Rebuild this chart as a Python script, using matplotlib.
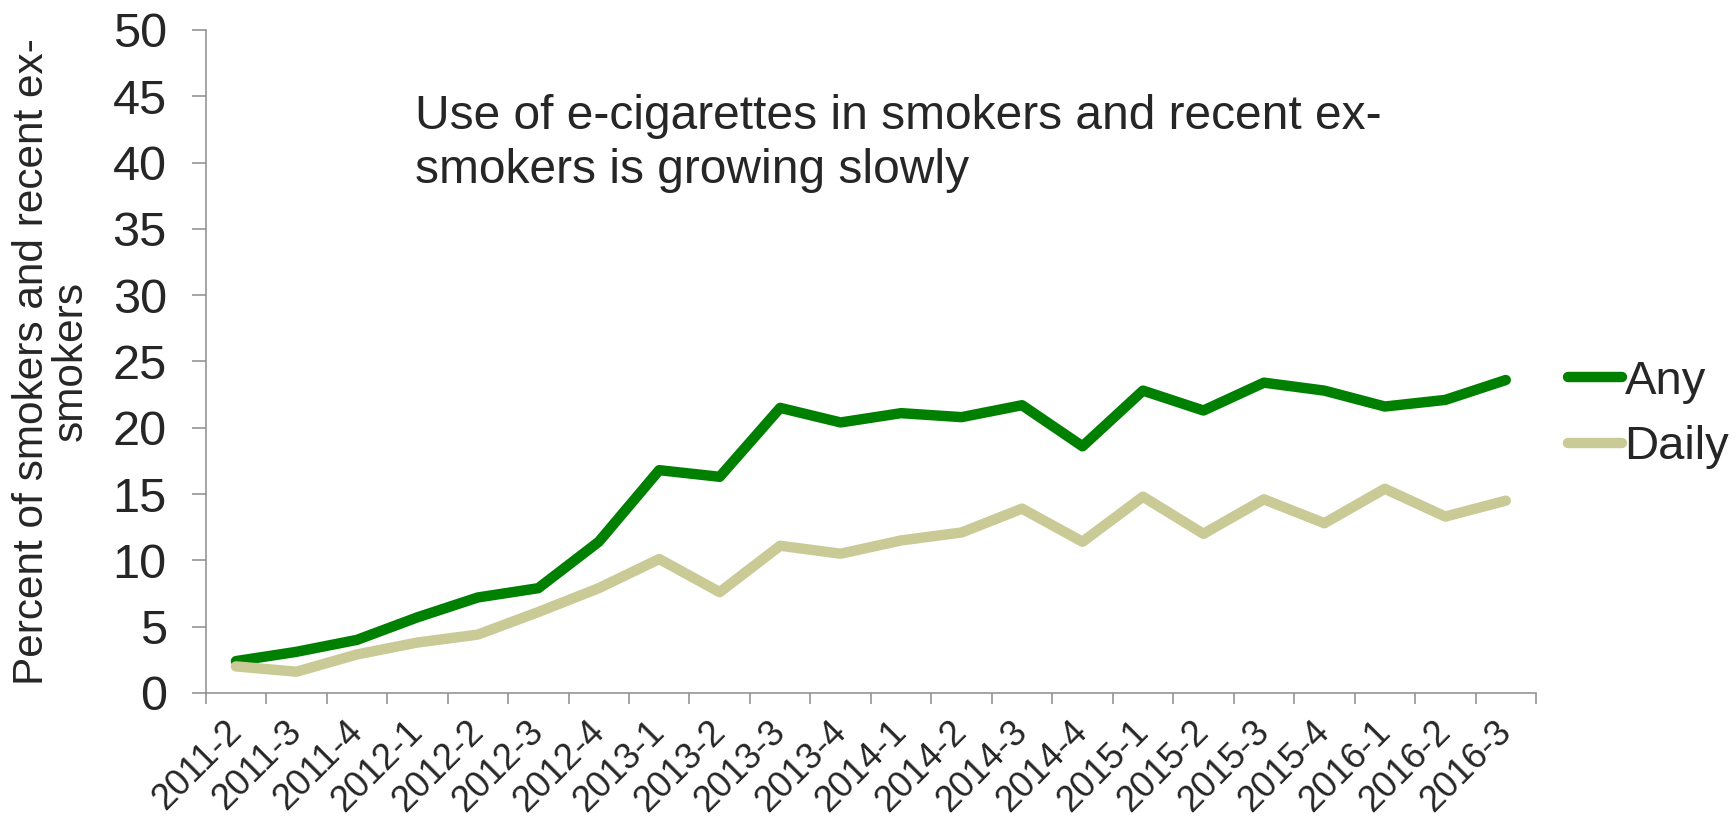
import numpy as np
import matplotlib
matplotlib.use("Agg")
import matplotlib.pyplot as plt

quarters = ["2011-2", "2011-3", "2011-4", "2012-1", "2012-2", "2012-3", "2012-4",
            "2013-1", "2013-2", "2013-3", "2013-4", "2014-1", "2014-2", "2014-3",
            "2014-4", "2015-1", "2015-2", "2015-3", "2015-4", "2016-1", "2016-2",
            "2016-3"]
any_use = [2.4, 3.1, 4.0, 5.7, 7.2, 7.9, 11.4, 16.8, 16.3, 21.5, 20.4, 21.1, 20.8,
           21.7, 18.6, 22.8, 21.3, 23.4, 22.8, 21.6, 22.1, 23.6]
daily_use = [2.0, 1.6, 2.9, 3.8, 4.4, 6.1, 7.9, 10.1, 7.6, 11.1, 10.5, 11.5, 12.1,
             13.9, 11.4, 14.8, 12.0, 14.6, 12.8, 15.4, 13.3, 14.5]

plt.rcParams['font.family'] = ['Liberation Sans', 'DejaVu Sans']
txt = '#262626'
axis_col = '#8c8c8c'

fig = plt.figure(figsize=(17.36, 8.21), dpi=100)
ax = fig.add_axes([0.1185, 0.156, 0.7663, 0.8075])

x = np.arange(len(quarters))
ax.plot(x, any_use, color='#008000', lw=7.5, solid_capstyle='round',
        solid_joinstyle='round', label='Any')
ax.plot(x, daily_use, color='#c9ca96', lw=7.5, solid_capstyle='round',
        solid_joinstyle='round', label='Daily')

ax.set_xlim(-0.5, len(quarters) - 0.5)
ax.set_ylim(0, 50)
ax.set_yticks(np.arange(0, 51, 5))
ax.set_xticks(x)
ax.set_xticklabels(quarters, rotation=45, ha='right', va='center',
                   rotation_mode='anchor')
ax.set_xticks(np.arange(-0.5, len(quarters), 1), minor=True)
ax.tick_params(axis='x', which='major', length=0, pad=24, labelsize=26, labelcolor=txt)
ax.tick_params(axis='x', which='minor', length=8, width=1.1, color=axis_col)
ax.tick_params(axis='y', length=10, width=1.1, color=axis_col, pad=18,
               labelsize=35, labelcolor=txt)

for s in ['top', 'right']:
    ax.spines[s].set_visible(False)
for s in ['left', 'bottom']:
    ax.spines[s].set_color(axis_col)
    ax.spines[s].set_linewidth(1.1)

ax.set_ylabel("Percent of smokers and recent ex-\nsmokers", fontsize=30.5,
              color=txt, family=['Liberation Sans Narrow', 'Liberation Sans'],
              labelpad=16, linespacing=0.95)

fig.text(0.239, 0.885, "Use of e-cigarettes in smokers and recent ex-\n"
         "smokers is growing slowly", fontsize=34.5, color=txt, va='top',
         linespacing=1.25)

leg = ax.legend(loc='center left', bbox_to_anchor=(1.024, 0.42), frameon=False,
                fontsize=34, handlelength=1.15, handletextpad=0.05,
                borderpad=0, borderaxespad=0, labelspacing=0.45, labelcolor=txt)

fig.savefig("out.png", dpi=100)
